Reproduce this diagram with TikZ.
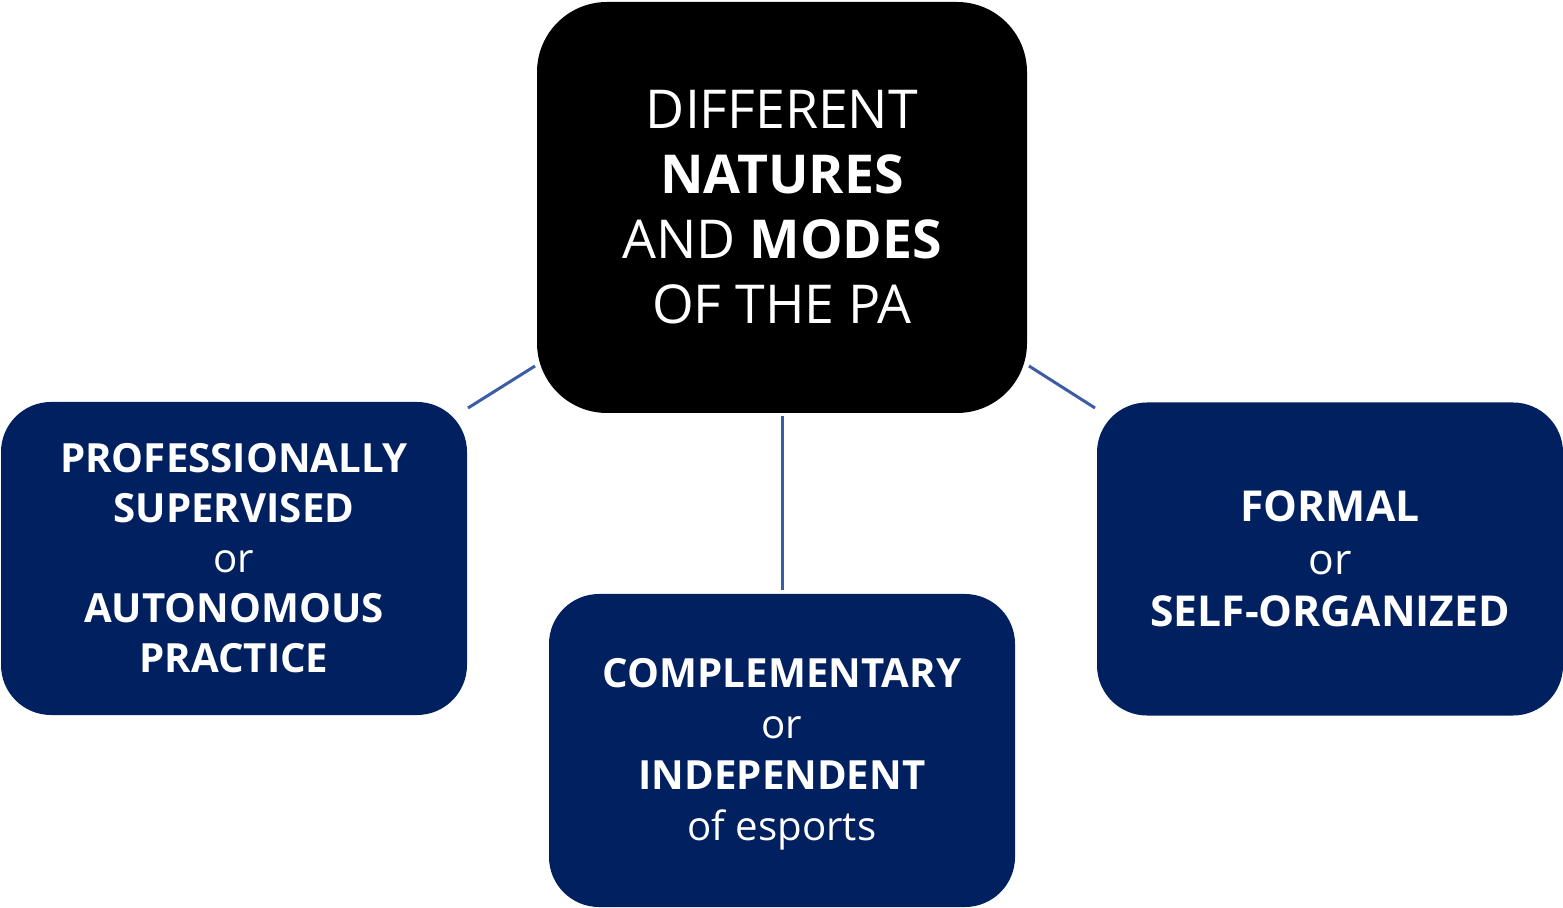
\documentclass[tikz,border=0pt]{standalone}
\usepackage{fontspec}
\setmainfont{Open Sans}
\definecolor{navy}{RGB}{0,32,96}
\definecolor{linkblue}{RGB}{59,93,166}
\begin{document}
\begin{tikzpicture}[x=0.5pt,y=-0.5pt,
  bigbox/.style={fill=black, rounded corners=35pt, inner sep=0pt, text=white, align=center,
    minimum width=245pt, minimum height=205.5pt,
    font=\fontsize{26.8pt}{32.5pt}\selectfont},
  smallbox/.style={fill=navy, rounded corners=25pt, inner sep=0pt, text=white, align=center,
    minimum width=233pt, minimum height=156.5pt},
  conn/.style={draw=linkblue, line width=1.5pt}]
\useasboundingbox (0,0) rectangle (1563,908);
\node[bigbox] (C) at (782,207.5) {DIFFERENT\\\textbf{NATURES}\\AND \textbf{MODES}\\OF THE PA};
\node[smallbox, font=\fontsize{20.1pt}{25pt}\selectfont] (L) at (234,558.5) {\textbf{PROFESSIONALLY}\\\textbf{SUPERVISED}\\or\\\textbf{AUTONOMOUS}\\\textbf{PRACTICE}};
\node[smallbox, font=\fontsize{20.1pt}{25.5pt}\selectfont] (M) at (782,750.5) {};
\node[font=\fontsize{20.1pt}{25.5pt}\selectfont, text=white, align=center, inner sep=0pt] (Mt) at (782,754) {\textbf{COMPLEMENTARY}\\or\\\textbf{INDEPENDENT}\\of esports};
\node[smallbox, font=\fontsize{21.3pt}{26.2pt}\selectfont] (R) at (1330,559) {\textbf{FORMAL}\\or\\\textbf{SELF-ORGANIZED}};
\coordinate (l1) at (468,408);
\coordinate (l2) at (535,366);
\coordinate (r1) at (1029,366);
\coordinate (r2) at (1095,408);
\draw[conn] (l1) -- (l2);
\draw[conn] (r1) -- (r2);
\draw[conn, shorten <=1.5pt, shorten >=2pt] (C.south) -- (M.north);
\end{tikzpicture}
\end{document}
